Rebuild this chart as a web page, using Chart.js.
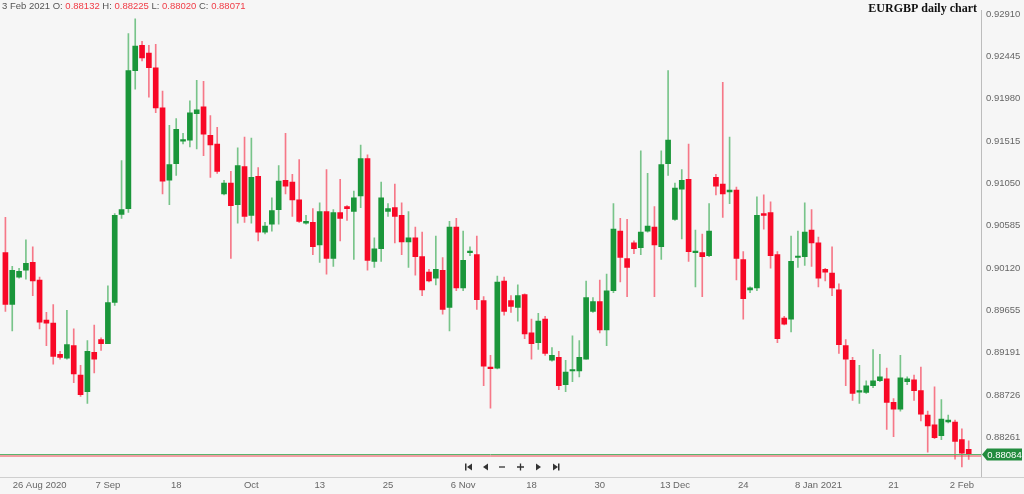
<!DOCTYPE html>
<html lang="en">
<head>
<meta charset="UTF-8">
<title>EURGBP daily chart</title>
<script src="https://cdn.jsdelivr.net/npm/chart.js"></script>
<style>
    html, body { margin: 0; padding: 0; background: #f6f6f6; overflow: hidden; }
    #wrap { position: relative; width: 1024px; height: 494px; }
</style>
</head>
<body>
<div id="wrap"><canvas id="grafico"></canvas></div>

<script>
// trading days (forex, incl. sunday candles)
const days = [
    '2020-08-20','2020-08-21','2020-08-23','2020-08-24','2020-08-25','2020-08-26','2020-08-27','2020-08-28','2020-08-30','2020-08-31',
    '2020-09-01','2020-09-02','2020-09-03','2020-09-04','2020-09-06','2020-09-07','2020-09-08','2020-09-09','2020-09-10','2020-09-11',
    '2020-09-13','2020-09-14','2020-09-15','2020-09-16','2020-09-17','2020-09-18','2020-09-20','2020-09-21','2020-09-22','2020-09-23',
    '2020-09-24','2020-09-25','2020-09-27','2020-09-28','2020-09-29','2020-09-30','2020-10-01','2020-10-02','2020-10-04','2020-10-05',
    '2020-10-06','2020-10-07','2020-10-08','2020-10-09','2020-10-11','2020-10-12','2020-10-13','2020-10-14','2020-10-15','2020-10-16',
    '2020-10-18','2020-10-19','2020-10-20','2020-10-21','2020-10-22','2020-10-23','2020-10-25','2020-10-26','2020-10-27','2020-10-28',
    '2020-10-29','2020-10-30','2020-11-01','2020-11-02','2020-11-03','2020-11-04','2020-11-05','2020-11-06','2020-11-08','2020-11-09',
    '2020-11-10','2020-11-11','2020-11-12','2020-11-13','2020-11-15','2020-11-16','2020-11-17','2020-11-18','2020-11-19','2020-11-20',
    '2020-11-22','2020-11-23','2020-11-24','2020-11-25','2020-11-26','2020-11-27','2020-11-29','2020-11-30','2020-12-01','2020-12-02',
    '2020-12-03','2020-12-04','2020-12-06','2020-12-07','2020-12-08','2020-12-09','2020-12-10','2020-12-11','2020-12-13','2020-12-14',
    '2020-12-15','2020-12-16','2020-12-17','2020-12-18','2020-12-20','2020-12-21','2020-12-22','2020-12-23','2020-12-24','2020-12-27',
    '2020-12-28','2020-12-29','2020-12-30','2020-12-31','2021-01-03','2021-01-04','2021-01-05','2021-01-06','2021-01-07','2021-01-08',
    '2021-01-10','2021-01-11','2021-01-12','2021-01-13','2021-01-14','2021-01-15','2021-01-17','2021-01-18','2021-01-19','2021-01-20',
    '2021-01-21','2021-01-22','2021-01-24','2021-01-25','2021-01-26','2021-01-27','2021-01-28','2021-01-29','2021-01-31','2021-02-01',
    '2021-02-02','2021-02-03'
];

const open = [
    0.90289,0.89720,0.90021,0.90096,0.90182,0.89989,0.89548,0.89516,0.89173,0.89130,
    0.89269,0.88947,0.88764,0.89194,0.89334,0.89291,0.89742,0.90708,0.90773,0.92287,
    0.92566,0.92480,0.92319,0.91879,0.91084,0.91267,0.91514,0.91525,0.91815,0.91890,
    0.91578,0.91482,0.90934,0.91052,0.90816,0.91235,0.90698,0.91127,0.90515,0.90601,
    0.90762,0.91084,0.91063,0.90869,0.90612,0.90622,0.90375,0.90741,0.90225,0.90730,
    0.90794,0.90741,0.90912,0.91321,0.90193,0.90332,0.90741,0.90784,0.90698,0.90408,
    0.90451,0.90246,0.90075,0.90010,0.90096,0.89688,0.90569,0.89903,0.90289,0.90268,
    0.89763,0.89022,0.89022,0.89978,0.89763,0.89688,0.89828,0.89409,0.89301,0.89559,
    0.89108,0.89140,0.88840,0.88990,0.88990,0.89119,0.89645,0.89753,0.89441,0.89871,
    0.90526,0.90225,0.90397,0.90343,0.90526,0.90569,0.90354,0.91267,0.90655,0.90987,
    0.91095,0.90289,0.90289,0.90257,0.91117,0.91041,0.90955,0.90977,0.90214,0.89881,
    0.89903,0.90719,0.90730,0.90268,0.89570,0.89559,0.90236,0.90246,0.90537,0.90397,
    0.90107,0.90064,0.89881,0.89269,0.89108,0.88759,0.88754,0.88829,0.88883,0.88904,
    0.88646,0.88571,0.88872,0.88893,0.88775,0.88507,0.88399,0.88281,0.88431,0.88431,
    0.88238,0.88132
];
const high = [
    0.90676,0.90139,0.90118,0.90429,0.90354,0.90021,0.89634,0.89720,0.89205,0.89656,
    0.89452,0.89054,0.89323,0.89495,0.89355,0.89924,0.90719,0.91299,0.92695,0.92856,
    0.92609,0.92566,0.92577,0.92062,0.91686,0.91761,0.91600,0.91955,0.92180,0.92169,
    0.91793,0.91664,0.91084,0.91181,0.91439,0.91557,0.91546,0.91224,0.90622,0.90891,
    0.91245,0.91600,0.91149,0.91310,0.90698,0.90773,0.90837,0.91202,0.90762,0.91095,
    0.90805,0.90966,0.91471,0.91364,0.90451,0.91063,0.90827,0.91041,0.90837,0.90741,
    0.90569,0.90515,0.90107,0.90472,0.90236,0.90633,0.90665,0.90526,0.90354,0.90472,
    0.89806,0.89162,0.90032,0.90021,0.89817,0.89935,0.89838,0.89559,0.89624,0.89591,
    0.89248,0.89205,0.89108,0.89377,0.89323,0.89978,0.89795,0.89989,0.90053,0.90827,
    0.90665,0.90655,0.90418,0.91407,0.91160,0.90794,0.91407,0.92287,0.91052,0.91202,
    0.91482,0.90537,0.90494,0.90827,0.91149,0.92158,0.91557,0.91009,0.90300,0.89913,
    0.90902,0.90923,0.90848,0.90300,0.89591,0.90472,0.90526,0.90837,0.90762,0.90461,
    0.90118,0.90354,0.89946,0.89334,0.89140,0.89054,0.88883,0.89226,0.89173,0.89022,
    0.88689,0.89162,0.88926,0.88947,0.89033,0.88550,0.88818,0.88678,0.88507,0.88453,
    0.88357,0.88225
];
const low = [
    0.89645,0.89430,0.90010,0.89999,0.89817,0.89452,0.89269,0.89065,0.89119,0.89119,
    0.88861,0.88711,0.88635,0.88968,0.89216,0.89291,0.89709,0.90665,0.90730,0.92083,
    0.92395,0.91997,0.91825,0.90934,0.90816,0.91138,0.91482,0.91449,0.91428,0.91353,
    0.91116,0.91160,0.90923,0.90225,0.90612,0.90622,0.90612,0.90418,0.90494,0.90526,
    0.90601,0.90934,0.90687,0.90622,0.90601,0.90268,0.90182,0.90053,0.90139,0.90418,
    0.90644,0.90214,0.90784,0.90096,0.90128,0.90193,0.90687,0.90397,0.90268,0.90128,
    0.90042,0.89817,0.89967,0.89935,0.89613,0.89430,0.89871,0.89871,0.90257,0.89667,
    0.88829,0.88582,0.89012,0.89602,0.89634,0.89538,0.89344,0.89119,0.89226,0.89162,
    0.89097,0.88786,0.88764,0.88872,0.88926,0.89119,0.89634,0.89409,0.89269,0.89849,
    0.89967,0.89806,0.90279,0.90268,0.90515,0.89806,0.90214,0.91138,0.90644,0.90440,
    0.90193,0.89913,0.89806,0.90246,0.90923,0.90676,0.90827,0.89989,0.89559,0.89849,
    0.89871,0.90547,0.90118,0.89301,0.89495,0.89420,0.90128,0.90150,0.90139,0.89913,
    0.89978,0.89817,0.89183,0.88829,0.88668,0.88635,0.88743,0.88807,0.88872,0.88349,
    0.88270,0.88550,0.88840,0.88668,0.88442,0.88099,0.88249,0.88238,0.88421,0.88023,
    0.87938,0.88020
];
const close = [
    0.89720,0.90096,0.90085,0.90171,0.89978,0.89527,0.89516,0.89151,0.89140,0.89280,
    0.88958,0.88732,0.89205,0.89119,0.89291,0.89742,0.90698,0.90762,0.92287,0.92556,
    0.92427,0.92319,0.91879,0.91074,0.91256,0.91643,0.91525,0.91825,0.91858,0.91589,
    0.91471,0.91181,0.91052,0.90805,0.91245,0.90687,0.91117,0.90515,0.90580,0.90751,
    0.91074,0.91020,0.90869,0.90633,0.90633,0.90354,0.90741,0.90225,0.90730,0.90665,
    0.90773,0.90891,0.91321,0.90204,0.90332,0.90891,0.90773,0.90687,0.90408,0.90451,
    0.90246,0.89881,0.89978,0.90107,0.89667,0.90569,0.89903,0.90204,0.90300,0.89774,
    0.89044,0.89017,0.89967,0.89645,0.89699,0.89817,0.89398,0.89291,0.89538,0.89183,
    0.89162,0.88829,0.88979,0.89001,0.89140,0.89795,0.89753,0.89441,0.89871,0.90547,
    0.90236,0.90128,0.90332,0.90515,0.90580,0.90375,0.91256,0.91525,0.90998,0.91084,
    0.90300,0.90300,0.90246,0.90526,0.91020,0.90934,0.90977,0.90225,0.89785,0.89903,
    0.90698,0.90698,0.90257,0.89344,0.89505,0.90193,0.90246,0.90515,0.90397,0.90010,
    0.90075,0.89903,0.89280,0.89119,0.88743,0.88764,0.88829,0.88883,0.88926,0.88646,
    0.88571,0.88915,0.88904,0.88775,0.88517,0.88389,0.88260,0.88464,0.88453,0.88217,
    0.88088,0.88071
];

// axis labels
const xTickDays = ['2020-08-26','2020-09-07','2020-09-18','2020-10-01','2020-10-13','2020-10-25','2020-11-06',
                   '2020-11-18','2020-11-30','2020-12-13','2020-12-24','2021-01-08','2021-01-21','2021-02-02'];
const xTickText = ['26 Aug 2020','7 Sep','18','Oct','13','25','6 Nov','18','30','13 Dec','24','8 Jan 2021','21','2 Feb'];
const yTicks = [0.92910,0.92445,0.91980,0.91515,0.91050,0.90585,0.90120,0.89655,0.89191,0.88726,0.88261];
const lastPrice = 0.88084;

const ROJO = 'rgb(248,8,38)';
const VERDE = 'rgb(26,150,58)';
const ROJO_MECHA = 'rgb(246,120,136)';
const VERDE_MECHA = 'rgb(120,196,138)';
const FUENTE = '"Liberation Sans", Arial, sans-serif';

const sube = open.map((o, i) => close[i] >= o);
const mechas = days.map((d, i) => ({ x: i, y: [low[i], high[i]] }));
const cuerpos = days.map((d, i) => ({ x: i, y: [open[i], close[i]] }));
const xTickIdx = xTickDays.map(d => days.indexOf(d));

function fmtFecha(iso) {
    const meses = ['Jan','Feb','Mar','Apr','May','Jun','Jul','Aug','Sep','Oct','Nov','Dec'];
    const p = iso.split('-');
    return parseInt(p[2]) + ' ' + meses[parseInt(p[1]) - 1] + ' ' + p[0];
}

// textos, linea de precio y botones
const extras = {
    id: 'extras',
    afterDraw(chart) {
        const ctx = chart.ctx;
        const area = chart.chartArea;
        const y = chart.scales.y;
        ctx.save();

        // linea horizontal completa bajo el grafico
        ctx.strokeStyle = '#cfcfcf';
        ctx.lineWidth = 1;
        ctx.beginPath();
        ctx.moveTo(0, Math.round(area.bottom) + 0.5);
        ctx.lineTo(chart.width, Math.round(area.bottom) + 0.5);
        ctx.stroke();

        // linea del ultimo precio
        const py = Math.round(y.getPixelForValue(lastPrice)) + 0.5;
        ctx.strokeStyle = 'rgb(90,180,110)';
        ctx.beginPath(); ctx.moveTo(0, py); ctx.lineTo(area.right, py); ctx.stroke();
        ctx.strokeStyle = 'rgb(235,70,80)';
        ctx.beginPath(); ctx.moveTo(0, py + 1.5); ctx.lineTo(area.right, py + 1.5); ctx.stroke();

        // etiqueta del precio
        const bx = area.right + 1;
        ctx.fillStyle = 'rgb(34,140,62)';
        ctx.beginPath();
        ctx.moveTo(bx, py);
        ctx.lineTo(bx + 5, py - 6);
        ctx.lineTo(1022, py - 6);
        ctx.lineTo(1022, py + 6);
        ctx.lineTo(bx + 5, py + 6);
        ctx.closePath();
        ctx.fill();
        ctx.fillStyle = '#ffffff';
        ctx.font = '9.5px ' + FUENTE;
        ctx.textAlign = 'center';
        ctx.textBaseline = 'middle';
        ctx.fillText(lastPrice.toFixed(5), (bx + 5 + 1022) / 2, py + 0.5);

        // cabecera OHLC
        const n = days.length - 1;
        const partes = [
            [fmtFecha(days[n]) + ' O: ', '#555'], [open[n].toFixed(5), 'rgb(240,60,70)'],
            [' H: ', '#555'], [high[n].toFixed(5), 'rgb(240,60,70)'],
            [' L: ', '#555'], [low[n].toFixed(5), 'rgb(240,60,70)'],
            [' C: ', '#555'], [close[n].toFixed(5), 'rgb(240,60,70)']
        ];
        ctx.font = '9.5px ' + FUENTE;
        ctx.textAlign = 'left';
        let tx = 2;
        partes.forEach(p => {
            ctx.fillStyle = p[1];
            ctx.fillText(p[0], tx, 6);
            tx += ctx.measureText(p[0]).width;
        });

        // titulo
        ctx.font = 'bold 12px "Liberation Serif", "Times New Roman", serif';
        ctx.fillStyle = '#111';
        ctx.textAlign = 'right';
        ctx.fillText('EURGBP daily chart', 977, 9);

        // botones de navegacion
        const by = 467;
        ctx.fillStyle = '#333';
        ctx.strokeStyle = '#333';
        ctx.lineWidth = 1.3;
        // |<
        ctx.fillRect(465, by - 3.5, 1.5, 7);
        ctx.beginPath(); ctx.moveTo(472, by - 3.5); ctx.lineTo(467, by); ctx.lineTo(472, by + 3.5); ctx.fill();
        // <
        ctx.beginPath(); ctx.moveTo(488, by - 3.5); ctx.lineTo(483, by); ctx.lineTo(488, by + 3.5); ctx.fill();
        // -
        ctx.beginPath(); ctx.moveTo(499, by); ctx.lineTo(505, by); ctx.stroke();
        // +
        ctx.beginPath(); ctx.moveTo(517, by); ctx.lineTo(524, by); ctx.moveTo(520.5, by - 3.5); ctx.lineTo(520.5, by + 3.5); ctx.stroke();
        // >
        ctx.beginPath(); ctx.moveTo(536, by - 3.5); ctx.lineTo(541, by); ctx.lineTo(536, by + 3.5); ctx.fill();
        // >|
        ctx.beginPath(); ctx.moveTo(553, by - 3.5); ctx.lineTo(558, by); ctx.lineTo(553, by + 3.5); ctx.fill();
        ctx.fillRect(558, by - 3.5, 1.5, 7);

        ctx.restore();
    }
};

const ctx1 = document.getElementById('grafico').getContext('2d');
const grafico = new Chart(ctx1, {
    type: 'bar',
    data: {
        datasets: [{
            label: 'mechas',
            data: mechas,
            backgroundColor: sube.map(s => s ? VERDE_MECHA : ROJO_MECHA),
            barThickness: 1,
            grouped: false,
            order: 2
        }, {
            label: 'cuerpos',
            data: cuerpos,
            backgroundColor: sube.map(s => s ? VERDE : ROJO),
            barThickness: 5,
            minBarLength: 1.5,
            grouped: false,
            order: 1
        }]
    },
    options: {
        responsive: true,
        maintainAspectRatio: false,
        animation: false,
        events: [],
        layout: { padding: { left: 2, top: 0, right: 0, bottom: 0 } },
        plugins: { legend: { display: false }, tooltip: { enabled: false } },
        scales: {
            x: {
                type: 'linear',
                offset: false,
                min: -0.5,
                max: 142.8,
                grid: { display: false, drawTicks: false },
                border: { display: true, color: '#cfcfcf' },
                afterBuildTicks: s => { s.ticks = xTickIdx.map(v => ({ value: v })); },
                afterFit: s => { s.height = 17; },
                ticks: {
                    autoSkip: false,
                    maxRotation: 0,
                    padding: 3,
                    color: '#666',
                    font: { family: FUENTE, size: 9.5 },
                    callback: v => xTickText[xTickIdx.indexOf(v)]
                }
            },
            y: {
                position: 'right',
                min: 0.87827,
                max: 0.92945,
                grid: { display: false, drawTicks: false },
                border: { display: true, color: '#bdbdbd' },
                afterBuildTicks: s => { s.ticks = yTicks.map(v => ({ value: v })); },
                afterFit: s => { s.width = 43; },
                ticks: {
                    padding: 5,
                    color: '#666',
                    font: { family: FUENTE, size: 9.5 },
                    callback: v => v.toFixed(5)
                }
            }
        }
    },
    plugins: [extras]
});
</script>
</body>
</html>
